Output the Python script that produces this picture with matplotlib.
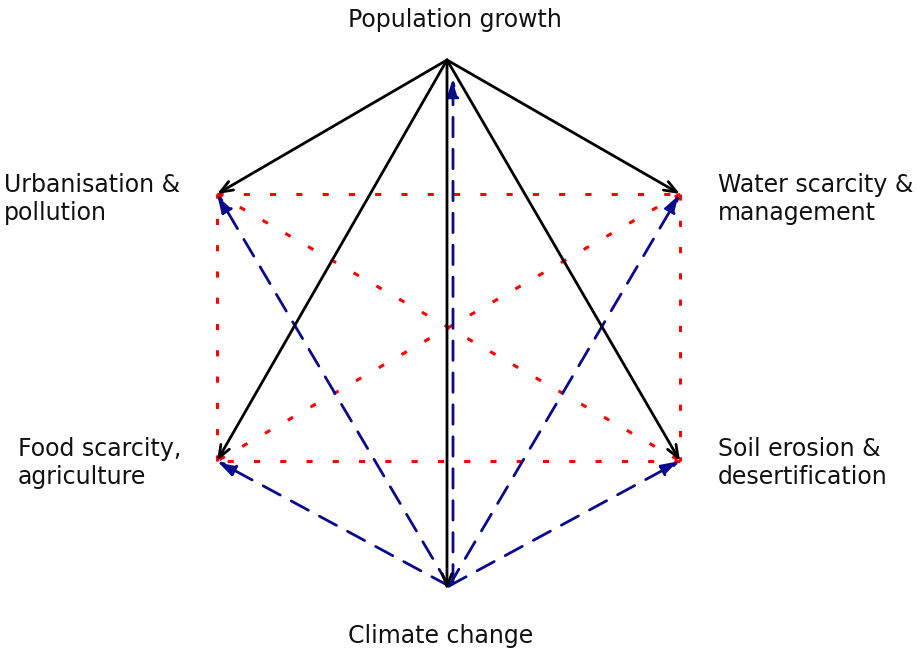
import matplotlib.pyplot as plt

# nodes of the diagram
labels = {
    'pop': 'Population growth',
    'urb': 'Urbanisation &\npollution',
    'wat': 'Water scarcity &\nmanagement',
    'food': 'Food scarcity,\nagriculture',
    'soil': 'Soil erosion &\ndesertification',
    'clim': 'Climate change',
}

# links: black = driven by population growth, blue = driven by climate change
black_links = [('pop', 'urb'), ('pop', 'wat'), ('pop', 'food'), ('pop', 'soil'), ('pop', 'clim')]
blue_links = [('clim', 'urb'), ('clim', 'wat'), ('clim', 'food'), ('clim', 'soil'), ('clim', 'pop')]
red_links = [('urb', 'wat'), ('wat', 'soil'), ('soil', 'food'), ('food', 'urb'),
             ('urb', 'soil'), ('wat', 'food')]

# layout (pixel coordinates, y downwards)
pos = {
    'pop': (447, 60), 'urb': (217, 194), 'wat': (680, 194),
    'food': (217, 461), 'soil': (680, 461), 'clim': (447, 590),
}
# x, baseline of last line, alignment
text_pos = {
    'pop': (455, 27, 'center'), 'urb': (4, 220, 'left'), 'wat': (718, 220, 'left'),
    'food': (18, 484, 'left'), 'soil': (718, 484, 'left'), 'clim': (441, 643, 'center'),
}

plt.rcParams['font.family'] = ['DejaVu Sans']

fig = plt.figure(figsize=(9.17, 6.48), dpi=100)
ax = fig.add_axes([0, 0, 1, 1])
ax.set_xlim(0, 917)
ax.set_ylim(648, 0)
ax.axis('off')

for a, b in red_links:
    (x0, y0), (x1, y1) = pos[a], pos[b]
    ax.plot([x0, x1], [y0, y1], color='#ff0000', lw=2.2, dashes=(2, 6.6),
            solid_capstyle='butt', dash_capstyle='butt', zorder=1)

for a, b in black_links:
    ax.annotate('', xy=pos[b], xytext=pos[a],
                arrowprops=dict(arrowstyle='->,head_length=0.9,head_width=0.35',
                                color='black', lw=2, shrinkA=0, shrinkB=0), zorder=3)

blue_off = {'pop': (453, 78), 'clim': (449, 586)}
for a, b in blue_links:
    start = blue_off['clim']
    end = pos[b]
    if b == 'pop':
        start = (453, 584)
        end = blue_off['pop']
    ax.annotate('', xy=end, xytext=start,
                arrowprops=dict(arrowstyle='-|>,head_length=1.1,head_width=0.35',
                                color='#0a0a8c', lw=2, linestyle=(0, (7, 4.5)),
                                shrinkA=0, shrinkB=0), zorder=2)

for key, text in labels.items():
    x, y, ha = text_pos[key]
    ax.text(x, y, text, ha=ha, va='baseline', fontsize=17,
            linespacing=1.22, color='#111111')

fig.savefig('out.png', dpi=100)
